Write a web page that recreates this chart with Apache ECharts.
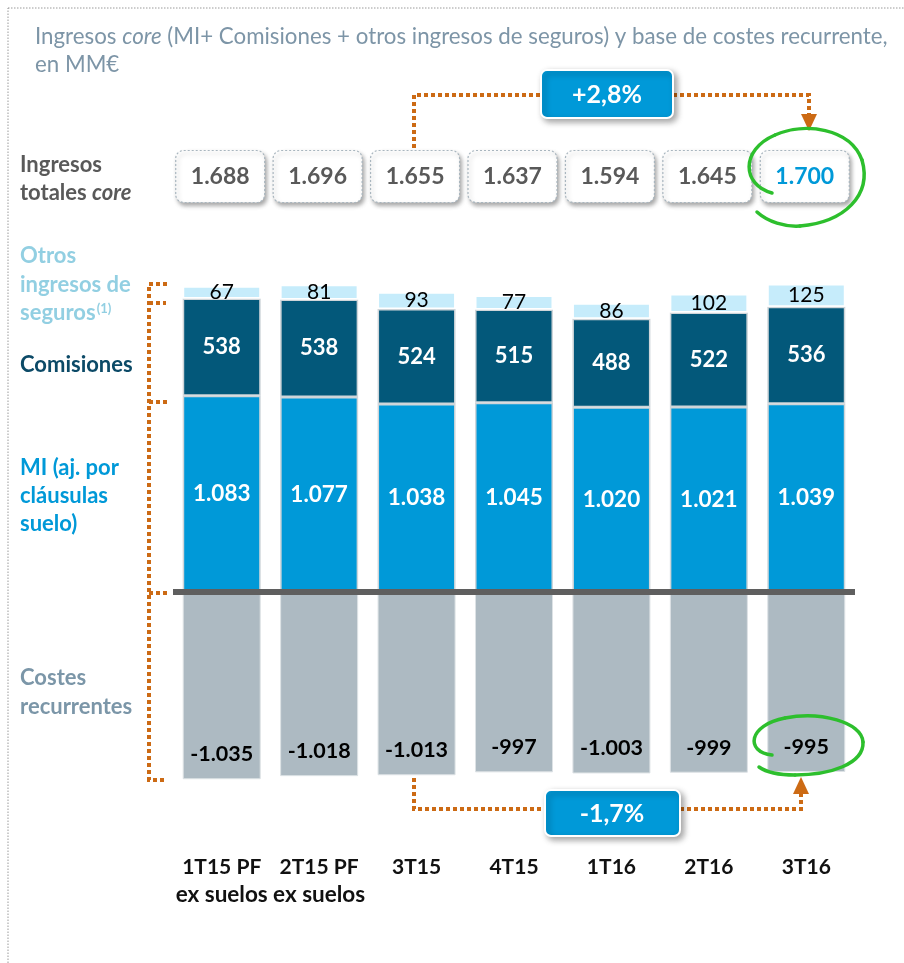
<!DOCTYPE html>
<html>
<head>
<meta charset="utf-8">
<script src="https://cdn.jsdelivr.net/npm/echarts@6/dist/echarts.min.js"></script>
<style>
  html, body { margin: 0; padding: 0; background: #ffffff; }
  #chart { width: 904px; height: 963px; }
</style>
</head>
<body>
<div id="chart"></div>
<script>
// Quarterly figures, millions of euros
const categories = ['1T15 PF\nex suelos', '2T15 PF\nex suelos', '3T15', '4T15', '1T16', '2T16', '3T16'];
const margenIntereses = [1083, 1077, 1038, 1045, 1020, 1021, 1039];
const comisiones = [538, 538, 524, 515, 488, 522, 536];
const otrosSeguros = [67, 81, 93, 77, 86, 102, 125];
const costesRecurrentes = [-1035, -1018, -1013, -997, -1003, -999, -995];
const ingresosTotales = [1688, 1696, 1655, 1637, 1594, 1645, 1700];
const variacionIngresos = '+2,8%';
const variacionCostes = '-1,7%';

const FONT = 'Lato';
const ORANGE = '#cc6a14';
const GREEN = '#2dbf2d';

// Spanish number format: thousands separated by '.'
function fmt(v) {
  const s = String(Math.abs(v));
  const body = s.length > 3 ? s.slice(0, -3) + '.' + s.slice(-3) : s;
  return (v < 0 ? '-' : '') + body;
}

// quarter name on the first line, qualifier (if any) on the second
function categoryLabel(value) {
  const parts = value.split('\n');
  return '{q|' + parts[0] + '}' + (parts[1] ? '\n{s|' + parts[1] + '}' : '');
}

const chart = echarts.init(document.getElementById('chart'), null, { renderer: 'canvas' });

const barBorder = { borderColor: '#cfd5d9', borderWidth: 1.5 };
const dotted = { stroke: ORANGE, lineWidth: 4, lineDash: [4, 3], fill: null };

function textEl(x, y, text, style) {
  return {
    type: 'text', x: x, y: y, silent: true,
    style: Object.assign({ text: text, fontFamily: FONT, verticalAlign: 'middle' }, style)
  };
}

// a hand-drawn ring made of cubic bezier pieces
function ring(start, pieces) {
  const out = [];
  let p = start;
  pieces.forEach(function (seg) {
    out.push({
      type: 'bezierCurve', silent: true, z: 100,
      shape: { x1: p[0], y1: p[1], cpx1: seg[0], cpy1: seg[1], cpx2: seg[2], cpy2: seg[3], x2: seg[4], y2: seg[5] },
      style: { fill: null, stroke: GREEN, lineWidth: 3.5, lineCap: 'round' }
    });
    p = [seg[4], seg[5]];
  });
  return out;
}

const option = {
  animation: false,
  backgroundColor: '#ffffff',
  grid: [
    { left: 173, right: 49, top: 266, height: 525 },
    { left: 173, right: 49, top: 150, height: 53 }
  ],
  xAxis: [
    {
      type: 'category', gridIndex: 0, data: categories,
      axisLine: { show: false, onZero: false }, axisTick: { show: false },
      axisLabel: {
        interval: 0, margin: 62, verticalAlign: 'top', formatter: categoryLabel,
        rich: {
          q: { fontFamily: FONT, fontWeight: 'bold', fontSize: 21, color: '#111111', lineHeight: 28 },
          s: { fontFamily: FONT, fontWeight: 'bold', fontSize: 22.5, color: '#111111', lineHeight: 28 }
        }
      }
    },
    { type: 'category', gridIndex: 1, data: categories, show: false }
  ],
  yAxis: [
    { type: 'value', gridIndex: 0, min: -1100, max: 1800, show: false, splitLine: { show: false } },
    { type: 'value', gridIndex: 1, min: 0, max: 1, show: false, splitLine: { show: false } }
  ],
  series: [
    {
      name: 'MI', type: 'bar', stack: 'total', barWidth: 78, data: margenIntereses,
      itemStyle: Object.assign({ color: '#0099d8' }, barBorder),
      label: { show: true, position: 'inside', formatter: p => fmt(p.value),
        fontFamily: FONT, fontWeight: 'bold', fontSize: 22.5, color: '#ffffff' }
    },
    {
      name: 'Comisiones', type: 'bar', stack: 'total', barWidth: 78, data: comisiones,
      itemStyle: Object.assign({ color: '#03587a' }, barBorder),
      label: { show: true, position: 'inside', formatter: p => fmt(p.value),
        fontFamily: FONT, fontWeight: 'bold', fontSize: 22, color: '#ffffff' }
    },
    {
      name: 'Otros ingresos de seguros', type: 'bar', stack: 'total', barWidth: 78, data: otrosSeguros,
      itemStyle: { color: '#c6ecfb', borderColor: '#ffffff', borderWidth: 1.5 },
      label: { show: true, position: 'inside', formatter: p => fmt(p.value),
        fontFamily: FONT, fontWeight: 'normal', fontSize: 21, color: '#000000' }
    },
    {
      name: 'Costes recurrentes', type: 'bar', stack: 'total', barWidth: 78, data: costesRecurrentes,
      itemStyle: { color: '#adbac2', borderColor: '#dde2e5', borderWidth: 1 },
      label: { show: true, position: 'insideBottom', distance: 14, formatter: p => fmt(p.value),
        fontFamily: FONT, fontWeight: 'bold', fontSize: 21.5, color: '#000000' },
      markLine: {
        silent: true, symbol: 'none', label: { show: false },
        lineStyle: { color: '#5f5f5f', width: 6, type: 'solid' },
        data: [{ yAxis: 0 }]
      }
    },
    {
      name: 'Ingresos totales core', type: 'custom', xAxisIndex: 1, yAxisIndex: 1,
      data: ingresosTotales.map((v, i) => [i, v]),
      renderItem: function (params, api) {
        const c = api.coord([api.value(0), 0.5]);
        const last = params.dataIndex === ingresosTotales.length - 1;
        return {
          type: 'group',
          children: [
            {
              type: 'rect',
              shape: { x: c[0] - 46, y: c[1] - 26, width: 89, height: 52, r: 8 },
              style: { fill: '#ffffff', stroke: '#a9b6bf', lineWidth: 1.2, lineDash: [2, 2],
                shadowBlur: 4, shadowOffsetX: 2, shadowOffsetY: 3, shadowColor: 'rgba(0,0,0,0.35)' }
            },
            {
              type: 'text',
              style: { text: fmt(api.value(1)), x: c[0] - 1.5, y: c[1], align: 'center', verticalAlign: 'middle',
                fontFamily: FONT, fontWeight: 'bold', fontSize: 23, fill: last ? '#0099d8' : '#595959' }
            }
          ]
        };
      }
    }
  ],
  graphic: [
    // outer dotted frame
    { type: 'rect', silent: true, shape: { x: 8, y: 8, width: 940, height: 1000 },
      style: { fill: null, stroke: '#9a9a9a', lineWidth: 1, lineDash: [1.5, 1.5] } },

    // title
    textEl(35, 51, '{n|Ingresos }{i|core}{n| (MI+ Comisiones + otros ingresos de seguros) y base de costes recurrente,}\n{n|en MM€}', {
      rich: {
        n: { fontFamily: FONT, fontSize: 22.3, fill: '#7d95a7', lineHeight: 28 },
        i: { fontFamily: FONT, fontSize: 22.3, fontStyle: 'italic', fill: '#7d95a7', lineHeight: 28 }
      }
    }),

    // row labels on the left
    textEl(20, 179, '{b|Ingresos}\n{b|totales }{i|core}', {
      rich: {
        b: { fontFamily: FONT, fontSize: 22, fontWeight: 'bold', fill: '#595959', lineHeight: 28 },
        i: { fontFamily: FONT, fontSize: 22, fontWeight: 'bold', fontStyle: 'italic', fill: '#595959', lineHeight: 28 }
      }
    }),
    textEl(20, 284.5, '{b|Otros}\n{b|ingresos de}\n{b|seguros}{s|(1)}', {
      rich: {
        b: { fontFamily: FONT, fontSize: 22, fontWeight: 'bold', fill: '#92cfe2', lineHeight: 28.5 },
        s: { fontFamily: FONT, fontSize: 13, fontWeight: 'bold', fill: '#92cfe2', lineHeight: 28.5, verticalAlign: 'top', padding: [4, 0, 0, 1] }
      }
    }),
    textEl(20, 365, 'Comisiones', { fontSize: 22, fontWeight: 'bold', fill: '#0c4a67' }),
    textEl(20, 496, 'MI (aj. por\ncláusulas\nsuelo)', { fontSize: 22, fontWeight: 'bold', fill: '#0099d8', lineHeight: 28 }),
    textEl(20, 692.5, 'Costes\nrecurrentes', { fontSize: 22, fontWeight: 'bold', fill: '#7b96a8', lineHeight: 29 }),

    // left bracket
    { type: 'polyline', silent: true, shape: { points: [[167, 284], [149, 284], [149, 780], [167, 780]] }, style: dotted },
    { type: 'polyline', silent: true, shape: { points: [[149, 303], [166, 303]] }, style: dotted },
    { type: 'polyline', silent: true, shape: { points: [[149, 402], [167, 402]] }, style: dotted },
    { type: 'polyline', silent: true, shape: { points: [[149, 593], [167, 593]] }, style: dotted },

    // revenue variation connector
    { type: 'polyline', silent: true, shape: { points: [[414, 148], [414, 95], [541, 95]] }, style: dotted },
    { type: 'polyline', silent: true, shape: { points: [[673, 95], [809, 95], [809, 116]] }, style: dotted },
    { type: 'polygon', silent: true, shape: { points: [[801, 114], [817, 114], [809, 131]] }, style: { fill: ORANGE } },
    { type: 'rect', silent: true, shape: { x: 541, y: 70, width: 132, height: 48, r: 6 },
      style: { fill: '#0099d8', stroke: '#ffffff', lineWidth: 2, shadowBlur: 6, shadowOffsetX: 3, shadowOffsetY: 3, shadowColor: 'rgba(0,0,0,0.35)' } },
    textEl(607, 95, variacionIngresos, { fontSize: 25, fontWeight: 'bold', fill: '#ffffff', align: 'center' }),

    // cost variation connector
    { type: 'polyline', silent: true, shape: { points: [[414, 778], [414, 809], [545, 809]] }, style: dotted },
    { type: 'polyline', silent: true, shape: { points: [[680, 809], [801, 809], [801, 794]] }, style: dotted },
    { type: 'polygon', silent: true, shape: { points: [[793, 794], [809, 794], [801, 777]] }, style: { fill: ORANGE } },
    { type: 'rect', silent: true, shape: { x: 545, y: 790, width: 135, height: 46, r: 6 },
      style: { fill: '#0099d8', stroke: '#ffffff', lineWidth: 2, shadowBlur: 6, shadowOffsetX: 3, shadowOffsetY: 3, shadowColor: 'rgba(0,0,0,0.35)' } },
    textEl(612, 814, variacionCostes, { fontSize: 25, fontWeight: 'bold', fill: '#ffffff', align: 'center' })
  ]
    // hand-drawn highlight rings around the latest quarter
    .concat(ring([772, 193], [[742, 185, 740, 150, 775, 135], [805, 122, 850, 128, 862, 160], [872, 195, 845, 222, 800, 226], [785, 227, 768, 222, 757, 212]]))
    .concat(ring([772, 755], [[745, 752, 748, 725, 785, 718], [820, 711, 862, 722, 863, 742], [864, 764, 830, 775, 795, 775], [780, 775, 766, 772, 759, 767]]))
};

chart.setOption(option);
</script>
</body>
</html>
